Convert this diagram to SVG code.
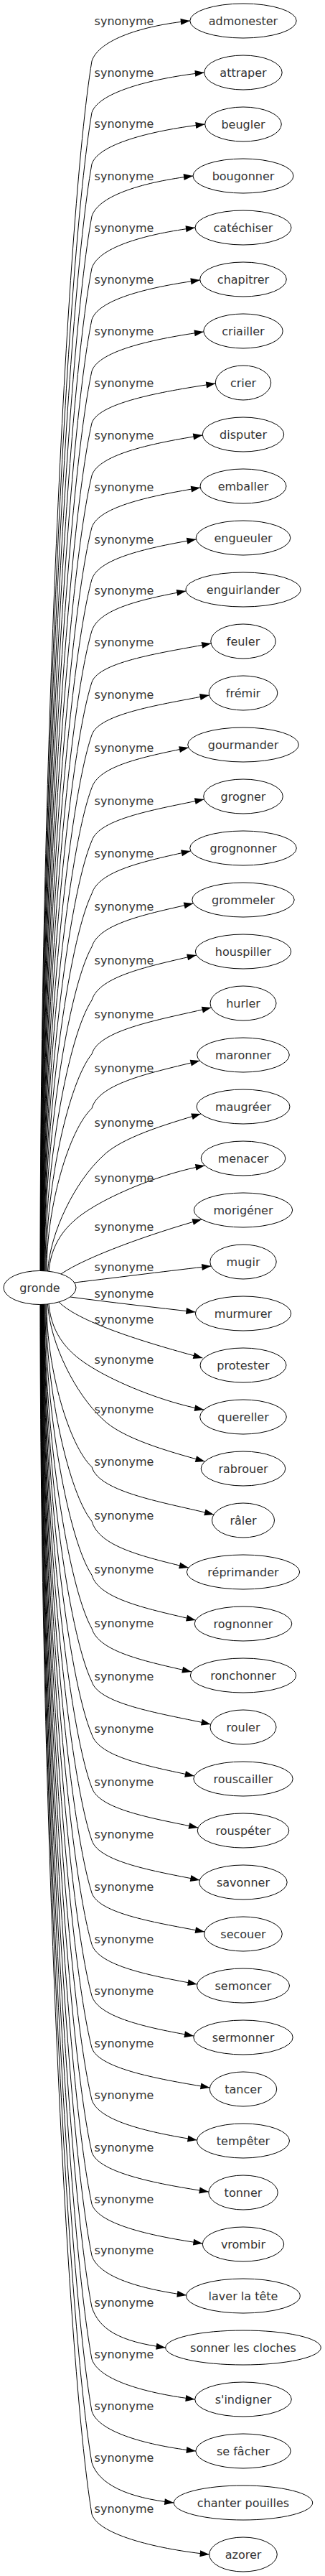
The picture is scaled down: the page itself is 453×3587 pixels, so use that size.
<svg xmlns="http://www.w3.org/2000/svg" width="453" height="3587" viewBox="0 0 453 3587">
<style>
.e{fill:none;stroke:#000;stroke-width:1;marker-end:url(#arr)}
.l{font-family:"DejaVu Sans",sans-serif;font-size:16px;fill:#333;text-anchor:middle}
.n ellipse{fill:none;stroke:#000;stroke-width:1}
.n text{font-family:"DejaVu Sans",sans-serif;font-size:16px;fill:#333;text-anchor:middle}
</style>
<defs>
<marker id="arr" viewBox="0 0 13 9" refX="13" refY="4.5" markerWidth="13" markerHeight="9" markerUnits="userSpaceOnUse" orient="auto" overflow="visible"><path d="M0,0 L13,4.5 L0,9 Z" fill="#000"/></marker>
</defs>
<rect width="453" height="3587" fill="#fff"/>
<g id="edges">
<path class="e" d="M56,1769.5 C56,1095.7 92,304 128,85 C138,54.8 199.8,35.5 264.8,29"/>
<path class="e" d="M56.4,1769.5 C56.4,1124.4 92.2,366.3 128,156.7 C138,126.6 219.8,108 284.8,101"/>
<path class="e" d="M56.7,1769.5 C56.7,1153 92.4,428.6 128,228.3 C138,198.4 220.7,180.5 285.7,173"/>
<path class="e" d="M57.1,1769.5 C57.1,1182.1 92.6,491.9 128,301 C138,270.8 204,253 269,245"/>
<path class="e" d="M57.4,1769.5 C57.4,1211 92.7,554.8 128,373.3 C138,342.9 207,325.5 272,317"/>
<path class="e" d="M57.8,1769.5 C57.8,1239.7 92.9,617.2 128,445 C138,415.3 213.8,398.9 278.8,390"/>
<path class="e" d="M58.1,1769.5 C58.1,1268.4 93.1,679.5 128,516.7 C138,487.2 218.9,471.4 283.9,462"/>
<path class="e" d="M58.5,1769.5 C58.5,1297.3 93.3,742.4 128,589 C138,559.3 235.3,543.9 300.3,534"/>
<path class="e" d="M58.8,1769.5 C58.8,1326.5 93.4,805.9 128,662 C138,631.7 217.3,616.4 282.3,606"/>
<path class="e" d="M59.2,1769.5 C59.2,1355.4 93.6,868.8 128,734.3 C138,704.5 214.2,689.9 279.2,679"/>
<path class="e" d="M59.5,1769.5 C59.5,1384.4 93.8,931.8 128,806.7 C138,776.6 208.4,762.4 273.4,751"/>
<path class="e" d="M59.9,1769.5 C59.9,1413 94,994.1 128,878.3 C138,848.4 194.3,834.9 259.3,823"/>
<path class="e" d="M60.2,1769.5 C60.2,1441.7 94.1,1056.5 128,950 C138,920.8 229.2,908.4 294.2,896"/>
<path class="e" d="M60.6,1769.5 C60.6,1471 94.3,1120.3 128,1023.3 C138,993.4 226.6,980.8 291.6,968"/>
<path class="e" d="M60.9,1769.5 C60.9,1500.4 94.5,1184.1 128,1096.7 C138,1066.6 197.8,1054.3 262.8,1041"/>
<path class="e" d="M61.3,1769.5 C61.3,1530 94.7,1248.5 128,1170.7 C138,1139.5 219.5,1126.8 284.5,1113"/>
<path class="e" d="M61.6,1769.5 C61.6,1559.4 94.8,1312.5 128,1244.3 C138,1212.3 200.7,1199.3 265.7,1185"/>
<path class="e" d="M62,1769.5 C62,1589 95,1376.9 128,1318.3 C138,1285.7 204.4,1272.8 269.4,1258"/>
<path class="e" d="M63,1769.5 C63,1618.8 95.5,1441.6 128,1392.7 C138,1358.8 208.8,1345.3 273.8,1330"/>
<path class="e" d="M64,1769.5 C64,1648.8 96,1506.9 128,1467.7 C138,1432.7 229.5,1418.8 294.5,1403"/>
<path class="e" d="M65,1769.8 C65,1679 96.5,1572.7 128,1543.3 C138,1507.5 213.4,1493.3 278.4,1477"/>
<path class="e" d="M66.5,1770 C70,1715 105,1645 143,1610 C169,1584 230,1566 279.9,1551"/>
<path class="e" d="M68,1770.2 C72,1725 98,1700 128,1682 C160,1662 225,1634 285.5,1623"/>
<path class="e" d="M85,1774 C120,1750 210,1718 281.2,1698"/>
<path class="e" d="M103.7,1786 C170,1778 240,1769 294.3,1763"/>
<path class="e" d="M98,1806 C150,1813 220,1821 272.4,1827"/>
<path class="e" d="M82,1813 C112,1843 212,1872 282.4,1891"/>
<path class="e" d="M68,1815.8 C72,1861 98,1886 128,1904 C160,1924 225,1952 284.2,1963"/>
<path class="e" d="M66.5,1816 C70,1871 105,1941 143,1976 C169,2002 230,2020 285.5,2035"/>
<path class="e" d="M65,1816.2 C65,1907 96.5,2013.3 128,2042.7 C138,2078.5 233,2092.7 298,2109"/>
<path class="e" d="M64,1816.5 C64,1937.2 96,2079.1 128,2118.3 C138,2153.3 197.8,2167.2 262.8,2183"/>
<path class="e" d="M63,1816.5 C63,1967.2 95.5,2144.4 128,2193.3 C138,2227.2 207.7,2240.7 272.7,2256"/>
<path class="e" d="M62,1816.5 C62,1997 95,2209.1 128,2267.7 C138,2300.3 201.9,2313.2 266.9,2328"/>
<path class="e" d="M61.6,1816.5 C61.6,2026.6 94.8,2273.5 128,2341.7 C138,2373.7 228.6,2386.7 293.6,2401"/>
<path class="e" d="M61.3,1816.5 C61.3,2056 94.7,2337.5 128,2415.3 C138,2446.5 205.8,2459.2 270.8,2473"/>
<path class="e" d="M60.9,1816.5 C60.9,2085.6 94.5,2401.9 128,2489.3 C138,2519.4 211.1,2531.7 276.1,2545"/>
<path class="e" d="M60.6,1816.5 C60.6,2115 94.3,2465.7 128,2562.7 C138,2592.6 213.3,2605.2 278.3,2618"/>
<path class="e" d="M60.2,1816.5 C60.2,2144.3 94.1,2529.5 128,2636 C138,2665.2 220.1,2677.6 285.1,2690"/>
<path class="e" d="M59.9,1816.5 C59.9,2173 94,2591.9 128,2707.7 C138,2737.6 209.7,2751.1 274.7,2763"/>
<path class="e" d="M59.5,1816.5 C59.5,2201.6 93.8,2654.2 128,2779.3 C138,2809.4 205,2823.6 270,2835"/>
<path class="e" d="M59.2,1816.5 C59.2,2230.6 93.6,2717.2 128,2851.7 C138,2881.5 227.5,2896.1 292.5,2907"/>
<path class="e" d="M58.8,1816.5 C58.8,2259.5 93.4,2780.1 128,2924 C138,2954.3 209.5,2969.6 274.5,2980"/>
<path class="e" d="M58.5,1816.5 C58.5,2288.7 93.3,2843.6 128,2997 C138,3026.7 225.8,3042.1 290.8,3052"/>
<path class="e" d="M58.1,1816.5 C58.1,2317.6 93.1,2906.5 128,3069.3 C138,3098.8 217.4,3114.6 282.4,3124"/>
<path class="e" d="M57.8,1816.5 C57.8,2346.3 92.9,2968.8 128,3141 C138,3170.7 194.8,3187.1 259.8,3196"/>
<path class="e" d="M57.4,1816.5 C57.4,2375 92.7,3031.2 128,3212.7 C138,3243.1 165.7,3260.5 230.7,3269"/>
<path class="e" d="M57.1,1816.5 C57.1,2403.9 92.6,3094.1 128,3285 C138,3315.2 206.7,3333 271.7,3341"/>
<path class="e" d="M56.7,1816.5 C56.7,2433 92.4,3157.4 128,3357.7 C138,3387.6 207.8,3405.5 272.8,3413"/>
<path class="e" d="M56.4,1816.5 C56.4,2461.6 92.2,3219.7 128,3429.3 C138,3459.4 177.3,3478 242.3,3485"/>
<path class="e" d="M56,1816.5 C56,2490.3 92,3282 128,3501 C138,3531.2 226.7,3550.5 291.7,3557"/>
</g>
<g id="edge-labels">
<text class="l" x="173" y="35">synonyme</text>
<text class="l" x="173" y="106.7">synonyme</text>
<text class="l" x="173" y="178.3">synonyme</text>
<text class="l" x="173" y="251">synonyme</text>
<text class="l" x="173" y="323.3">synonyme</text>
<text class="l" x="173" y="395">synonyme</text>
<text class="l" x="173" y="466.7">synonyme</text>
<text class="l" x="173" y="539">synonyme</text>
<text class="l" x="173" y="612">synonyme</text>
<text class="l" x="173" y="684.3">synonyme</text>
<text class="l" x="173" y="756.7">synonyme</text>
<text class="l" x="173" y="828.3">synonyme</text>
<text class="l" x="173" y="900">synonyme</text>
<text class="l" x="173" y="973.3">synonyme</text>
<text class="l" x="173" y="1046.7">synonyme</text>
<text class="l" x="173" y="1120.7">synonyme</text>
<text class="l" x="173" y="1194.3">synonyme</text>
<text class="l" x="173" y="1268.3">synonyme</text>
<text class="l" x="173" y="1342.7">synonyme</text>
<text class="l" x="173" y="1417.7">synonyme</text>
<text class="l" x="173" y="1493.3">synonyme</text>
<text class="l" x="173" y="1569.3">synonyme</text>
<text class="l" x="173" y="1645.7">synonyme</text>
<text class="l" x="173" y="1714.3">synonyme</text>
<text class="l" x="173" y="1770">synonyme</text>
<text class="l" x="173" y="1806.7">synonyme</text>
<text class="l" x="173" y="1843">synonyme</text>
<text class="l" x="173" y="1899">synonyme</text>
<text class="l" x="173" y="1968">synonyme</text>
<text class="l" x="173" y="2041">synonyme</text>
<text class="l" x="173" y="2116">synonyme</text>
<text class="l" x="173" y="2191">synonyme</text>
<text class="l" x="173" y="2266">synonyme</text>
<text class="l" x="173" y="2340">synonyme</text>
<text class="l" x="173" y="2413.3">synonyme</text>
<text class="l" x="173" y="2486.7">synonyme</text>
<text class="l" x="173" y="2560">synonyme</text>
<text class="l" x="173" y="2633">synonyme</text>
<text class="l" x="173" y="2706">synonyme</text>
<text class="l" x="173" y="2778">synonyme</text>
<text class="l" x="173" y="2851">synonyme</text>
<text class="l" x="173" y="2923">synonyme</text>
<text class="l" x="173" y="2996">synonyme</text>
<text class="l" x="173" y="3068">synonyme</text>
<text class="l" x="173" y="3139">synonyme</text>
<text class="l" x="173" y="3212">synonyme</text>
<text class="l" x="173" y="3284">synonyme</text>
<text class="l" x="173" y="3356">synonyme</text>
<text class="l" x="173" y="3428">synonyme</text>
<text class="l" x="173" y="3499">synonyme</text>
</g>
<g id="gronde" class="n"><ellipse cx="55.5" cy="1793" rx="50.5" ry="23.5"/><text x="55.5" y="1799">gronde</text></g>
<g id="n0" class="n"><ellipse cx="339" cy="29" rx="74.2" ry="24"/><text x="339" y="35">admonester</text></g>
<g id="n1" class="n"><ellipse cx="339" cy="101" rx="54.2" ry="24"/><text x="339" y="107">attraper</text></g>
<g id="n2" class="n"><ellipse cx="339" cy="173" rx="53.3" ry="24"/><text x="339" y="179">beugler</text></g>
<g id="n3" class="n"><ellipse cx="339" cy="245" rx="70" ry="24"/><text x="339" y="251">bougonner</text></g>
<g id="n4" class="n"><ellipse cx="339" cy="317" rx="67" ry="24"/><text x="339" y="323">catéchiser</text></g>
<g id="n5" class="n"><ellipse cx="339" cy="389" rx="60.3" ry="24"/><text x="339" y="395">chapitrer</text></g>
<g id="n6" class="n"><ellipse cx="339" cy="461" rx="55.2" ry="24"/><text x="339" y="467">criailler</text></g>
<g id="n7" class="n"><ellipse cx="339" cy="533" rx="38.7" ry="24"/><text x="339" y="539">crier</text></g>
<g id="n8" class="n"><ellipse cx="339" cy="605" rx="56.7" ry="24"/><text x="339" y="611">disputer</text></g>
<g id="n9" class="n"><ellipse cx="339" cy="677" rx="60" ry="24"/><text x="339" y="683">emballer</text></g>
<g id="n10" class="n"><ellipse cx="339" cy="749" rx="65.8" ry="24"/><text x="339" y="755">engueuler</text></g>
<g id="n11" class="n"><ellipse cx="339" cy="821" rx="80" ry="24"/><text x="339" y="827">enguirlander</text></g>
<g id="n12" class="n"><ellipse cx="339" cy="893" rx="45.2" ry="24"/><text x="339" y="899">feuler</text></g>
<g id="n13" class="n"><ellipse cx="339" cy="965" rx="47.8" ry="24"/><text x="339" y="971">frémir</text></g>
<g id="n14" class="n"><ellipse cx="339" cy="1037" rx="77.3" ry="24"/><text x="339" y="1043">gourmander</text></g>
<g id="n15" class="n"><ellipse cx="339" cy="1109" rx="55.3" ry="24"/><text x="339" y="1115">grogner</text></g>
<g id="n16" class="n"><ellipse cx="339" cy="1181" rx="74.3" ry="24"/><text x="339" y="1187">grognonner</text></g>
<g id="n17" class="n"><ellipse cx="339" cy="1253" rx="71.2" ry="24"/><text x="339" y="1259">grommeler</text></g>
<g id="n18" class="n"><ellipse cx="339" cy="1325" rx="66.7" ry="24"/><text x="339" y="1331">houspiller</text></g>
<g id="n19" class="n"><ellipse cx="339" cy="1397" rx="46" ry="24"/><text x="339" y="1403">hurler</text></g>
<g id="n20" class="n"><ellipse cx="339" cy="1469" rx="64.3" ry="24"/><text x="339" y="1475">maronner</text></g>
<g id="n21" class="n"><ellipse cx="339" cy="1541" rx="65" ry="24"/><text x="339" y="1547">maugréer</text></g>
<g id="n22" class="n"><ellipse cx="339" cy="1613" rx="58.8" ry="24"/><text x="339" y="1619">menacer</text></g>
<g id="n23" class="n"><ellipse cx="339" cy="1685" rx="68.7" ry="24"/><text x="339" y="1691">morigéner</text></g>
<g id="n24" class="n"><ellipse cx="339" cy="1757" rx="46.2" ry="24"/><text x="339" y="1763">mugir</text></g>
<g id="n25" class="n"><ellipse cx="339" cy="1829" rx="66.7" ry="24"/><text x="339" y="1835">murmurer</text></g>
<g id="n26" class="n"><ellipse cx="339" cy="1901" rx="60" ry="24"/><text x="339" y="1907">protester</text></g>
<g id="n27" class="n"><ellipse cx="339" cy="1973" rx="60.3" ry="24"/><text x="339" y="1979">quereller</text></g>
<g id="n28" class="n"><ellipse cx="339" cy="2045" rx="58.8" ry="24"/><text x="339" y="2051">rabrouer</text></g>
<g id="n29" class="n"><ellipse cx="339" cy="2117" rx="43.5" ry="24"/><text x="339" y="2123">râler</text></g>
<g id="n30" class="n"><ellipse cx="339" cy="2189" rx="78.7" ry="24"/><text x="339" y="2195">réprimander</text></g>
<g id="n31" class="n"><ellipse cx="339" cy="2261" rx="67.8" ry="24"/><text x="339" y="2267">rognonner</text></g>
<g id="n32" class="n"><ellipse cx="339" cy="2333" rx="73.7" ry="24"/><text x="339" y="2339">ronchonner</text></g>
<g id="n33" class="n"><ellipse cx="339" cy="2405" rx="46" ry="24"/><text x="339" y="2411">rouler</text></g>
<g id="n34" class="n"><ellipse cx="339" cy="2477" rx="69.2" ry="24"/><text x="339" y="2483">rouscailler</text></g>
<g id="n35" class="n"><ellipse cx="339" cy="2549" rx="63.8" ry="24"/><text x="339" y="2555">rouspéter</text></g>
<g id="n36" class="n"><ellipse cx="339" cy="2621" rx="61.2" ry="24"/><text x="339" y="2627">savonner</text></g>
<g id="n37" class="n"><ellipse cx="339" cy="2693" rx="54.3" ry="24"/><text x="339" y="2699">secouer</text></g>
<g id="n38" class="n"><ellipse cx="339" cy="2765" rx="64.5" ry="24"/><text x="339" y="2771">semoncer</text></g>
<g id="n39" class="n"><ellipse cx="339" cy="2837" rx="69.2" ry="24"/><text x="339" y="2843">sermonner</text></g>
<g id="n40" class="n"><ellipse cx="339" cy="2909" rx="46.7" ry="24"/><text x="339" y="2915">tancer</text></g>
<g id="n41" class="n"><ellipse cx="339" cy="2981" rx="64.5" ry="24"/><text x="339" y="2987">tempêter</text></g>
<g id="n42" class="n"><ellipse cx="339" cy="3053" rx="48.2" ry="24"/><text x="339" y="3059">tonner</text></g>
<g id="n43" class="n"><ellipse cx="339" cy="3125" rx="56.7" ry="24"/><text x="339" y="3131">vrombir</text></g>
<g id="n44" class="n"><ellipse cx="339" cy="3197" rx="79.3" ry="24"/><text x="339" y="3203">laver la tête</text></g>
<g id="n45" class="n"><ellipse cx="339" cy="3269" rx="108.3" ry="24"/><text x="339" y="3275">sonner les cloches</text></g>
<g id="n46" class="n"><ellipse cx="339" cy="3341" rx="67.3" ry="24"/><text x="339" y="3347">s'indigner</text></g>
<g id="n47" class="n"><ellipse cx="339" cy="3413" rx="66.2" ry="24"/><text x="339" y="3419">se fâcher</text></g>
<g id="n48" class="n"><ellipse cx="339" cy="3485" rx="96.7" ry="24"/><text x="339" y="3491">chanter pouilles</text></g>
<g id="n49" class="n"><ellipse cx="339" cy="3557" rx="47.3" ry="24"/><text x="339" y="3563">azorer</text></g>
</svg>
